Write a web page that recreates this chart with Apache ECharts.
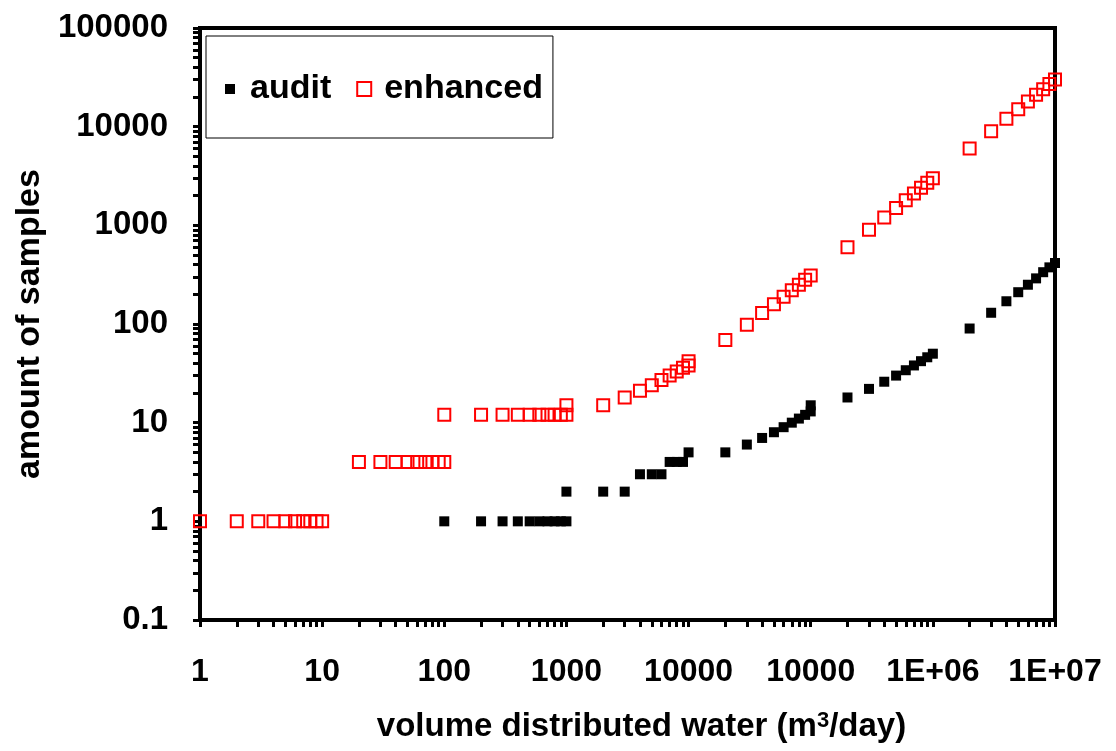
<!DOCTYPE html>
<html>
<head>
<meta charset="utf-8">
<script src="https://cdn.jsdelivr.net/npm/echarts@6/dist/echarts.min.js"></script>
<style>
html,body{margin:0;padding:0;background:#fff;}
#chart{width:1116px;height:751px;}
</style>
</head>
<body>
<div id="chart"></div>
<script>
// ---- data ----
const seriesNames = ['audit', 'enhanced'];
const xTickLabels = ['1', '10', '100', '1000', '10000', '10000', '1E+06', '1E+07'];
const yTickLabels = ['0.1', '1', '10', '100', '1000', '10000', '100000'];

const auditX = [100, 200, 300, 400, 500, 600, 700, 800, 900, 1000,
  1000, 2000, 3000, 4000, 5000, 6000, 7000, 8000, 9000, 10000,
  20000, 30000, 40000, 50000, 60000, 70000, 80000, 90000, 100000, 100000,
  200000, 300000, 400000, 500000, 600000, 700000, 800000, 900000, 1000000,
  2000000, 3000000, 4000000, 5000000, 6000000, 7000000, 8000000, 9000000, 10000000];
const auditY = [1, 1, 1, 1, 1, 1, 1, 1, 1, 1,
  2, 2, 2, 3, 3, 3, 4, 4, 4, 5,
  5, 6, 7, 8, 9, 10, 11, 12, 13, 15,
  18, 22, 26, 30, 34, 38, 42, 46, 50,
  90, 130, 170, 210, 250, 290, 335, 375, 415];

const enhancedX = [1, 2, 3, 4, 5, 6, 7, 8, 9, 10,
  20, 30, 40, 50, 60, 70, 80, 90, 100,
  100, 200, 300, 400, 500, 600, 700, 800, 900, 1000,
  1000, 2000, 3000, 4000, 5000, 6000, 7000, 8000, 9000, 10000, 10000,
  20000, 30000, 40000, 50000, 60000, 70000, 80000, 90000, 100000,
  200000, 300000, 400000, 500000, 600000, 700000, 800000, 900000, 1000000,
  2000000, 3000000, 4000000, 5000000, 6000000, 7000000, 8000000, 9000000, 10000000];
const enhancedY = [1, 1, 1, 1, 1, 1, 1, 1, 1, 1,
  4, 4, 4, 4, 4, 4, 4, 4, 4,
  12, 12, 12, 12, 12, 12, 12, 12, 12, 12,
  15, 15, 18, 21, 24, 27, 30, 33, 36, 38, 42,
  69, 98, 129, 159, 189, 220, 250, 281, 310,
  600, 900, 1200, 1500, 1800, 2100, 2400, 2700, 3000,
  6000, 9000, 12000, 15000, 18000, 21000, 24000, 27000, 30000];

// ---- helpers ----
function zip(xs, ys) { return xs.map((x, i) => [x, ys[i]]); }
function decadeTicks(fromExp, toExp) {
  const out = [];
  for (let e = fromExp; e < toExp; e++) {
    for (let m = 1; m <= 9; m++) out.push(+(m * Math.pow(10, e)).toPrecision(6));
  }
  out.push(+Math.pow(10, toExp).toPrecision(6));
  return out;
}
function decades(fromExp, toExp) {
  const out = [];
  for (let e = fromExp; e <= toExp; e++) out.push(+Math.pow(10, e).toPrecision(6));
  return out;
}

const FONT = "'Liberation Sans', Arial, sans-serif";
const chart = echarts.init(document.getElementById('chart'), null, {renderer: 'canvas'});

const axisCommon = {
  axisLine: {show: true, onZero: false, lineStyle: {color: '#000', width: 4}},
  axisTick: {show: true, inside: false, length: 7, lineStyle: {color: '#000', width: 3}},
  splitLine: {show: false},
  minorTick: {show: false},
  minorSplitLine: {show: false}
};

chart.setOption({
  animation: false,
  backgroundColor: '#fff',
  grid: {left: 200, right: 61, top: 28, bottom: 131, show: true, borderColor: '#000', borderWidth: 4, backgroundColor: 'transparent'},
  legend: {
    show: true,
    selectedMode: false,
    left: 206, top: 36,
    orient: 'horizontal',
    padding: [36, 10, 32, 17],
    borderColor: '#000', borderWidth: 1,
    itemGap: 25,
    itemWidth: 14, itemHeight: 14,
    textStyle: {fontFamily: FONT, fontWeight: 'bold', fontSize: 34, color: '#000', padding: [0, 0, 0, 8]},
    data: [
      {name: seriesNames[0], icon: 'path://M0,0M14,14M2,2L12,2L12,12L2,12Z', itemStyle: {color: '#000', borderWidth: 0}},
      {name: seriesNames[1], icon: 'rect', itemStyle: {color: 'rgba(255,255,255,0)', borderColor: '#ff0000', borderWidth: 2}}
    ]
  },
  xAxis: Object.assign({}, axisCommon, {
    type: 'log', logBase: 10, min: 1, max: 10000000,
    axisTick: Object.assign({}, axisCommon.axisTick, {customValues: decadeTicks(0, 7)}),
    axisLabel: {
      customValues: decades(0, 7),
      margin: 36,
      fontFamily: FONT, fontWeight: 'bold', fontSize: 32, color: '#000',
      formatter: v => xTickLabels[Math.round(Math.log10(v))]
    },
    name: 'volume distributed water (m{sup|3}/day)',
    nameLocation: 'middle',
    nameGap: 90,
    nameTextStyle: {fontFamily: FONT, fontWeight: 'bold', fontSize: 33, color: '#000', padding: [0, 0, 0, 28],
      rich: {sup: {fontFamily: FONT, fontWeight: 'bold', fontSize: 22, color: '#000', verticalAlign: 'top', lineHeight: 22}}}
  }),
  yAxis: Object.assign({}, axisCommon, {
    type: 'log', logBase: 10, min: 0.1, max: 100000,
    axisTick: Object.assign({}, axisCommon.axisTick, {customValues: decadeTicks(-1, 5)}),
    axisLabel: {
      customValues: decades(-1, 5),
      margin: 32,
      fontFamily: FONT, fontWeight: 'bold', fontSize: 33, color: '#000',
      formatter: v => yTickLabels[Math.round(Math.log10(v)) + 1]
    },
    name: 'amount of samples',
    nameLocation: 'middle',
    nameRotate: 90,
    nameGap: 152,
    nameTextStyle: {fontFamily: FONT, fontWeight: 'bold', fontSize: 34, color: '#000'}
  }),
  series: [
    {
      name: seriesNames[0], type: 'scatter', symbol: 'rect', symbolSize: 10,
      itemStyle: {color: '#000', opacity: 1},
      data: zip(auditX, auditY), z: 3
    },
    {
      name: seriesNames[1], type: 'scatter', symbol: 'rect', symbolSize: 12,
      itemStyle: {color: 'rgba(255,255,255,0)', borderColor: '#ff0000', borderWidth: 2, opacity: 1},
      data: zip(enhancedX, enhancedY), z: 4
    }
  ]
});
</script>
</body>
</html>
